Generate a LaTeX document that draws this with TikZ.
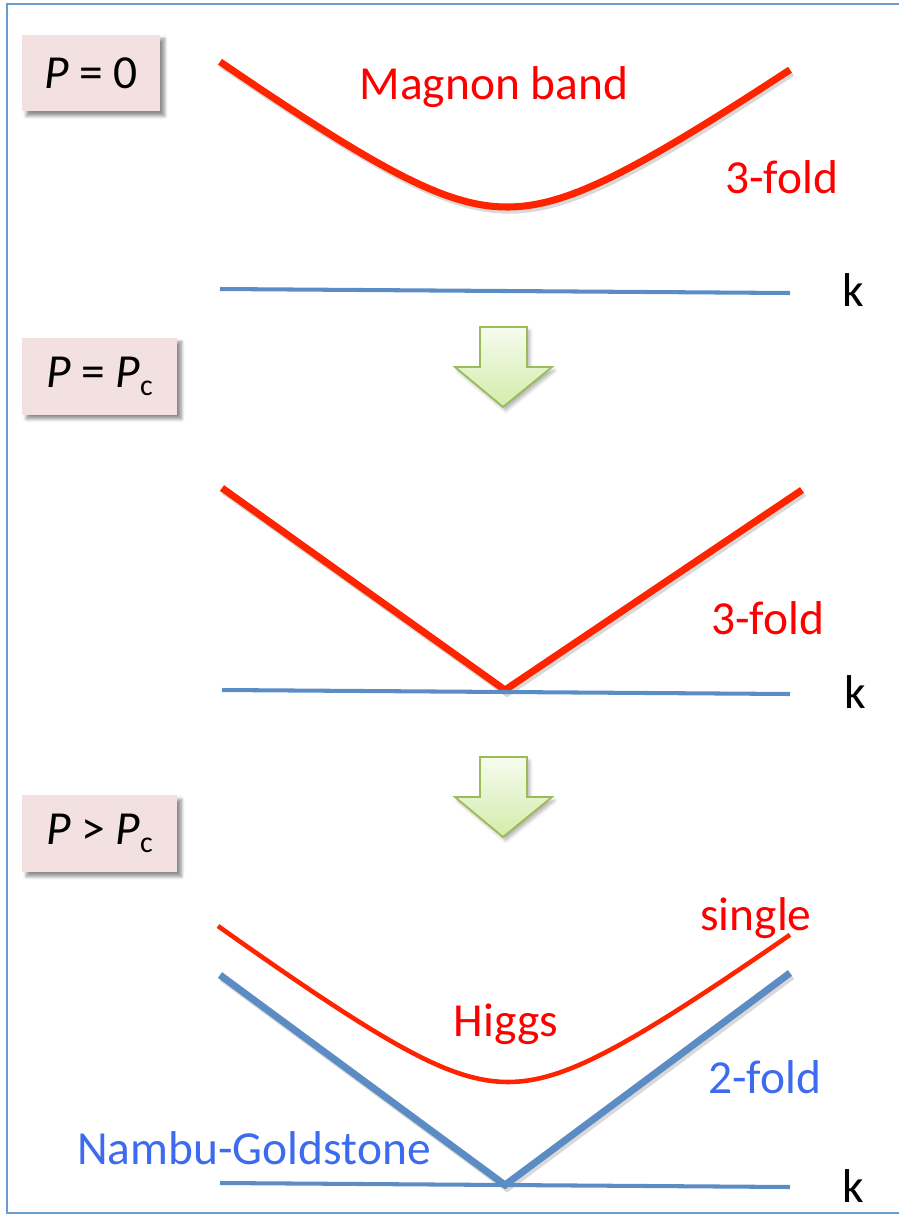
\documentclass[tikz,border=0pt]{standalone}
\usepackage{fontspec}
\setmainfont{Carlito}
\usetikzlibrary{shadows.blur}
\definecolor{framebl}{HTML}{6C9BD2}
\definecolor{axisbl}{HTML}{5B8CC4}
\definecolor{bandred}{HTML}{FF2400}
\definecolor{txtbl}{HTML}{3D6BF0}
\definecolor{boxpink}{HTML}{F2E1E0}
\definecolor{arrgreen}{HTML}{9BBB59}
\definecolor{arrlight}{HTML}{D3ECAA}
\newcommand{\crit}{\textit{P}\raisebox{-0.35ex}{\fontsize{17}{20}\selectfont c}}
\tikzset{
  pbox/.style={rectangle, fill=boxpink, minimum width=3.1cm,
               minimum height=1.54cm, font=\fontsize{27}{31}\selectfont,
               blur shadow={shadow xshift=2.5pt, shadow yshift=-2.5pt,
                            shadow opacity=45, shadow blur steps=6}},
  lbl/.style={anchor=base, inner sep=0pt, font=\fontsize{27}{31}\selectfont},
  redlbl/.style={lbl, text=red},
  bluelbl/.style={lbl, text=txtbl},
  klbl/.style={lbl, text=black},
  frame/.style={draw=framebl, line width=1.2pt},
  axis/.style={draw=axisbl, line width=2.3pt},
  band/.style={draw=bandred, line width=4pt,
               preaction={draw=black, draw opacity=0.15, line width=4pt,
                          transform canvas={xshift=1.2pt, yshift=-1.8pt}}},
  higgs/.style={draw=bandred, line width=2.6pt},
  ngband/.style={band, draw=axisbl},
  blockarr/.style={draw=arrgreen, line width=1pt, top color=arrlight!20,
                   bottom color=arrlight,
                   blur shadow={shadow xshift=1.5pt, shadow yshift=-2pt,
                                shadow opacity=30, shadow blur steps=5}},
}
\begin{document}
\begin{tikzpicture}[x=0.02cm, y=-0.02cm]
  \useasboundingbox (0,0) rectangle (899,1215);
  \draw[frame] (899,4) -- (7,4) -- (7,1213) -- (899,1213);

  % P = 0
  \node[pbox, minimum width=2.76cm] (p0) at (91,73) {\textit{P} = 0};
  \draw[band] plot[domain=-285:285, samples=90]
    ({505+\x}, {207 + 0.014*\x - (100*sqrt(0.76^2 + (0.00714*\x)^2) - 76)});
  \draw[axis] (220,289) -- (790,293);
  \node[redlbl] (magnon) at (494,99) {Magnon band};
  \node[redlbl] (fold1) at (782,193) {3-fold};
  \node[klbl] (k1) at (853,306) {k};

  \foreach \dy in {0,430} {
    \begin{scope}[shift={(0,\dy)}]
      \draw[blockarr] (480,327) -- (527,327) -- (527,367) -- (552,367)
        -- (503,407) -- (455,367) -- (480,367) -- cycle;
    \end{scope}
  }

  % P = Pc
  \node[pbox] (pc) at (99.5,376) {\textit{P} = \crit};
  \draw[band] (222,488) -- (505,690) -- (802,490);
  \draw[axis] (222,690) -- (790,694);
  \node[redlbl] (fold2) at (768,634) {3-fold};
  \node[klbl] (k2) at (855,708) {k};

  % P > Pc
  \node[pbox] (pgt) at (99.5,833.5) {\textit{P} > \crit};
  \draw[higgs] plot[domain=-289:283, samples=90]
    ({507+\x}, {1082 + 0.008*\x - (100*sqrt(0.72^2 + (0.0074*\x)^2) - 72)});
  \draw[ngband] (220,975) -- (505,1185) -- (790,973);
  \draw[axis] (220,1183) -- (790,1187);
  \node[redlbl] (single) at (756,930) {single};
  \node[redlbl] (higgs) at (506,1036) {Higgs};
  \node[bluelbl] (fold3) at (765,1093) {2-fold};
  \node[bluelbl] (ng) at (254,1164) {Nambu-Goldstone};
  \node[klbl] (k3) at (853,1202) {k};
\end{tikzpicture}
\end{document}
